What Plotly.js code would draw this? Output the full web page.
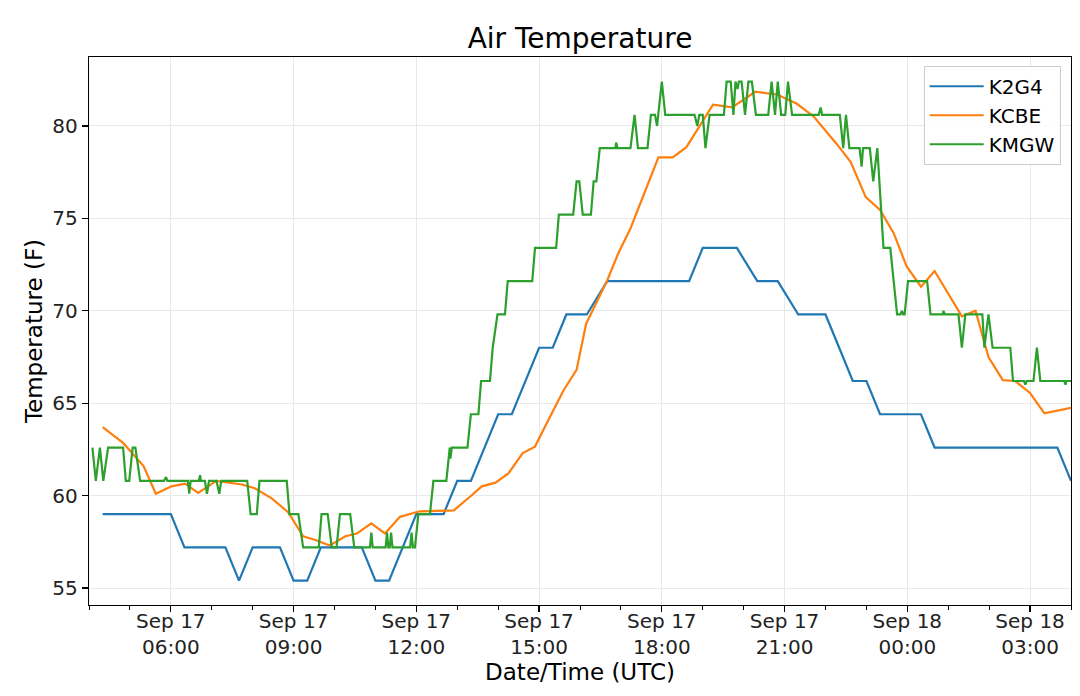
<!DOCTYPE html>
<html>
<head>
<meta charset="utf-8">
<script src="https://cdn.plot.ly/plotly-3.0.1.min.js"></script>
<style>
  body { margin: 0; background: #fff; }
  #chart { width: 1080px; height: 696px; }
</style>
</head>
<body>
<div id="chart"></div>
<script>
// station observations, Sep 17-18 (UTC), degrees F
var k2g4Times = ['17 04:20','17 06:00','17 06:20','17 07:20','17 07:40','17 08:00','17 08:40','17 09:00','17 09:20','17 09:40',
  '17 10:40','17 11:00','17 11:20','17 11:40','17 12:00','17 12:40','17 13:00','17 13:20','17 13:40','17 14:00',
  '17 14:20','17 14:40','17 15:00','17 15:20','17 15:40','17 16:10','17 16:40','17 18:40','17 19:00','17 19:50',
  '17 20:20','17 20:50','17 21:20','17 22:00','17 22:20','17 22:40','17 23:00','17 23:20','18 00:20','18 00:40',
  '18 03:40','18 04:00'];
var k2g4Temps = [59.0,59.0,57.2,57.2,55.4,57.2,57.2,55.4,55.4,57.2,
  57.2,55.4,55.4,57.2,59.0,59.0,60.8,60.8,62.6,64.4,
  64.4,66.2,68.0,68.0,69.8,69.8,71.6,71.6,73.4,73.4,
  71.6,71.6,69.8,69.8,68.0,66.2,66.2,64.4,64.4,62.6,
  62.6,60.8];

var kcbeTimes = ['17 04:20','17 04:50','17 05:20','17 05:38','17 06:01','17 06:21','17 06:40','17 07:07','17 07:44','17 08:03',
  '17 08:28','17 08:52','17 09:14','17 09:32','17 09:53','17 10:16','17 10:33','17 10:54','17 11:14','17 11:36',
  '17 12:05','17 12:55','17 13:19','17 13:36','17 13:56','17 14:15','17 14:36','17 14:54','17 15:11','17 15:36',
  '17 15:55','17 16:09','17 16:40','17 16:56','17 17:14','17 17:55','17 18:16','17 18:36','17 19:15','17 19:43',
  '17 20:17','17 20:49','17 21:18','17 21:43','17 22:17','17 22:37','17 22:59','17 23:20','17 23:40','17 23:59',
  '18 00:20','18 00:40','18 01:20','18 01:40','18 01:59','18 02:20','18 02:38','18 03:00','18 03:21','18 04:00'];
var kcbeTemps = [63.7,62.85,61.6,60.1,60.5,60.65,60.15,60.8,60.6,60.4,
  59.85,59.1,57.8,57.6,57.3,57.8,57.95,58.5,57.95,58.85,
  59.15,59.2,59.95,60.5,60.7,61.2,62.3,62.65,63.9,65.7,
  66.8,69.3,71.65,73.1,74.45,78.3,78.3,78.85,81.15,81.0,
  81.85,81.7,81.2,80.5,79.0,78.05,76.15,75.45,74.2,72.4,
  71.3,72.15,69.7,70.0,67.5,66.25,66.2,65.55,64.45,64.75];

var kmgwTimes = ['17 04:05','17 04:10','17 04:16','17 04:21','17 04:28','17 04:50','17 04:54','17 04:59','17 05:04','17 05:08',
  '17 05:15','17 05:50','17 05:53','17 05:55','17 06:25','17 06:27','17 06:29','17 06:41','17 06:43','17 06:44',
  '17 06:50','17 06:53','17 06:56','17 07:07','17 07:11','17 07:14','17 07:52','17 07:54','17 07:57','17 08:06',
  '17 08:10','17 08:50','17 08:54','17 09:07','17 09:14','17 09:37','17 09:41','17 09:50','17 09:56','17 10:03',
  '17 10:08','17 10:23','17 10:29','17 10:52','17 10:54','17 10:56','17 11:15','17 11:17','17 11:19','17 11:21',
  '17 11:23','17 11:25','17 11:51','17 11:53','17 11:55','17 11:58','17 12:03','17 12:20','17 12:25','17 12:44',
  '17 12:49','17 12:50','17 12:52','17 13:15','17 13:20','17 13:31','17 13:35','17 13:48','17 13:52','17 13:59',
  '17 14:10','17 14:14','17 14:50','17 14:54','17 15:25','17 15:29','17 15:50','17 15:55','17 15:59','17 16:04',
  '17 16:16','17 16:20','17 16:24','17 16:29','17 16:52','17 16:53','17 16:55','17 17:14','17 17:20','17 17:25',
  '17 17:39','17 17:44','17 17:50','17 17:53','17 18:00','17 18:05','17 18:48','17 18:52','17 18:55','17 19:00',
  '17 19:04','17 19:10','17 19:31','17 19:35','17 19:41','17 19:45','17 19:48','17 19:51','17 19:53','17 19:57',
  '17 20:02','17 20:07','17 20:12','17 20:18','17 20:36','17 20:41','17 20:46','17 20:50','17 20:55','17 21:01',
  '17 21:05','17 21:11','17 21:50','17 21:53','17 21:55','17 22:21','17 22:26','17 22:30','17 22:35','17 22:50',
  '17 22:53','17 22:55','17 23:05','17 23:10','17 23:16','17 23:25','17 23:35','17 23:45','17 23:50','17 23:52',
  '17 23:54','17 23:56','18 00:01','18 00:29','18 00:34','18 00:52','18 00:53','18 00:55','18 01:15','18 01:20',
  '18 01:25','18 01:50','18 01:53','18 01:59','18 02:05','18 02:31','18 02:35','18 02:51','18 02:53','18 02:55',
  '18 03:05','18 03:10','18 03:15','18 03:50','18 03:52','18 03:53','18 04:00'];
var kmgwTemps = [62.6,60.8,62.6,60.8,62.6,62.6,60.8,60.8,62.6,62.6,
  60.8,60.8,61.0,60.8,60.8,60.1,60.8,60.8,61.1,60.8,
  60.8,60.1,60.8,60.8,60.1,60.8,60.8,60.1,59.0,59.0,
  60.8,60.8,59.0,59.0,57.2,57.2,59.0,59.0,57.2,57.2,
  59.0,59.0,57.2,57.2,58.0,57.2,57.2,58.0,57.2,57.2,
  58.0,57.2,57.2,58.0,57.2,57.2,59.0,59.0,60.8,60.8,
  62.6,62.0,62.6,62.6,64.4,64.4,66.2,66.2,68.0,69.8,
  69.8,71.6,71.6,73.4,73.4,75.2,75.2,77.0,77.0,75.2,
  75.2,77.0,77.0,78.8,78.8,79.1,78.8,78.8,80.6,78.8,
  78.8,80.6,80.6,80.0,82.4,80.6,80.6,80.0,80.6,80.6,
  78.8,80.6,80.6,82.4,82.4,80.6,82.4,82.0,82.4,82.4,
  80.6,82.4,82.4,80.6,80.6,82.4,80.6,82.4,80.6,80.6,
  82.4,80.6,80.6,81.0,80.6,80.6,78.8,80.6,78.8,78.8,
  77.8,78.8,78.8,77.0,78.8,73.4,73.4,69.8,69.8,70.0,
  69.8,69.8,71.6,71.6,69.8,69.8,70.0,69.8,69.8,68.0,
  69.8,69.8,68.0,69.8,68.0,68.0,66.2,66.2,66.0,66.2,
  66.2,68.0,66.2,66.2,66.0,66.2,66.2];

var stations = ['K2G4', 'KCBE', 'KMGW'];
var colors = ['#1f77b4', '#ff7f0e', '#2ca02c'];
var xTickFormat = '%b %d<br>%H:%M';

function toDate(t) {
  return '2018-09-' + t;
}

var series = [
  [k2g4Times, k2g4Temps],
  [kcbeTimes, kcbeTemps],
  [kmgwTimes, kmgwTemps]
];

var data = series.map(function (s, i) {
  return {
    x: s[0].map(toDate),
    y: s[1],
    type: 'scatter',
    mode: 'lines',
    name: stations[i],
    legendgroup: stations[i],
    line: { color: colors[i], width: 2.2 }
  };
});

var font = 'DejaVu Sans, sans-serif';

var layout = {
  width: 1080,
  height: 696,
  margin: { t: 57, b: 91, l: 89, r: 9 },
  paper_bgcolor: '#fff',
  plot_bgcolor: '#fff',
  font: { family: font, color: '#000', size: 20 },
  title: {
    text: 'Air Temperature',
    font: { family: font, size: 28, color: '#000' },
    x: 0.5, xref: 'paper', xanchor: 'center',
    y: 1 - 38 / 696, yref: 'container', yanchor: 'middle'
  },
  xaxis: {
    type: 'date',
    range: ['2018-09-17 04:00', '2018-09-18 04:00'],
    tick0: '2018-09-17 00:00',
    dtick: 3 * 3600000,
    tickformat: xTickFormat,
    ticks: 'outside', ticklen: 6, tickwidth: 1.2, tickcolor: '#000',
    ticklabelstandoff: -8,
    tickfont: { family: font, size: 20, color: '#222' },
    minor: { dtick: 3600000, ticks: 'outside', ticklen: 3.5, tickwidth: 1, tickcolor: '#000', showgrid: false },
    showgrid: true, gridcolor: '#e8e8e8', gridwidth: 1,
    showline: true, linecolor: '#000', linewidth: 1.2, mirror: true,
    zeroline: false,
    title: { text: 'Date/Time (UTC)', font: { family: font, size: 23, color: '#000' }, standoff: 4 }
  },
  yaxis: {
    range: [54.08, 83.73],
    tick0: 55, dtick: 5,
    ticks: 'outside', ticklen: 6, tickwidth: 1.2, tickcolor: '#000',
    tickfont: { family: font, size: 20, color: '#222' },
    showgrid: true, gridcolor: '#e8e8e8', gridwidth: 1,
    showline: true, linecolor: '#000', linewidth: 1.2, mirror: true,
    zeroline: false,
    title: { text: 'Temperature (F)', font: { family: font, size: 23, color: '#000' }, standoff: 3 }
  },
  legend: {
    x: 0.9895, xanchor: 'right',
    y: 0.984, yanchor: 'top',
    bgcolor: 'rgba(255,255,255,0.85)',
    bordercolor: '#cccccc', borderwidth: 1,
    font: { family: font, size: 20, color: '#000' },
    traceorder: 'normal',
    tracegroupgap: 5,
    itemwidth: 54
  },
  showlegend: true
};

Plotly.newPlot('chart', data, layout, { displayModeBar: false, staticPlot: true });
</script>
</body>
</html>
